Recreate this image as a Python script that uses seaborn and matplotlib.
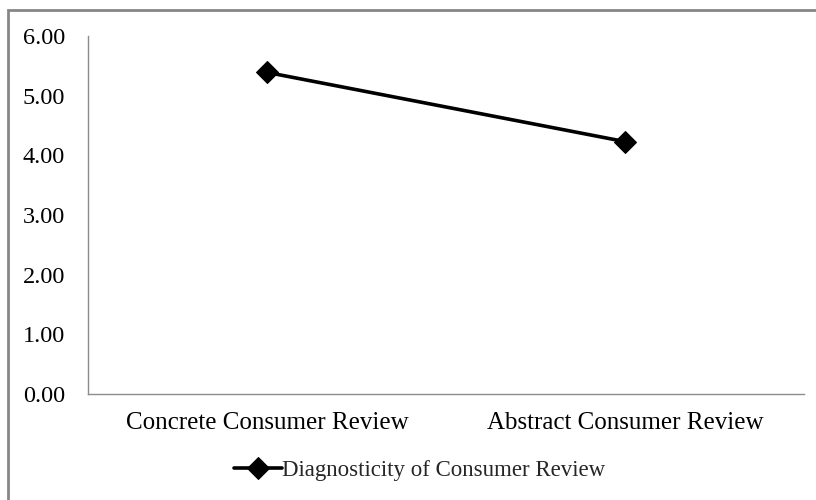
import pandas as pd
import matplotlib.pyplot as plt
import seaborn as sns
from matplotlib.patches import Rectangle

# Data
categories = ['Concrete Consumer Review', 'Abstract Consumer Review']
diagnosticity = [5.39, 4.23]
series_name = 'Diagnosticity of Consumer Review'
y_ticks = [0, 1, 2, 3, 4, 5, 6]

df = pd.DataFrame({'review': categories, 'score': diagnosticity})

sns.set_style('white')
plt.rcParams['font.family'] = ['Liberation Serif', 'DejaVu Serif']

fig = plt.figure(figsize=(8.16, 5.0), dpi=100)
ax = fig.add_axes([88 / 816, 1 - 394 / 500, (804 - 88) / 816, (394 - 36) / 500])

sns.lineplot(data=df, x='review', y='score', ax=ax, color='black',
             linewidth=2.6, marker='D', markersize=11, markeredgecolor='black',
             label=series_name, sort=False)

ax.set_xlim(-0.5, 1.5)
ax.set_ylim(0, 6)
ax.set_yticks(y_ticks)
ax.set_yticklabels([f'{v:.2f}' for v in y_ticks])
ax.set_xlabel('')
ax.set_ylabel('')
ax.tick_params(axis='both', length=0, colors='black')
ax.tick_params(axis='y', pad=16.5, labelsize=17.5)
ax.tick_params(axis='x', pad=13, labelsize=18)

for side in ['top', 'right']:
    ax.spines[side].set_visible(False)
for side in ['left', 'bottom']:
    ax.spines[side].set_color('#8c8c8c')
    ax.spines[side].set_linewidth(1.0)

leg = ax.legend(loc='center', bbox_to_anchor=(420 / 816, 1 - 470 / 500), bbox_transform=fig.transFigure,
                frameon=False, fontsize=16.5, handlelength=2.1, handletextpad=0.0,
                borderpad=0)

# outer chart border (runs past the right/bottom edge in the reference)
fig.patches.append(Rectangle((8 / 816, -0.05), 1.2, 1 - 10 / 500 + 0.05, transform=fig.transFigure,
                             fill=False, edgecolor='#868686', linewidth=2.0))

fig.savefig('out.png', dpi=100)
